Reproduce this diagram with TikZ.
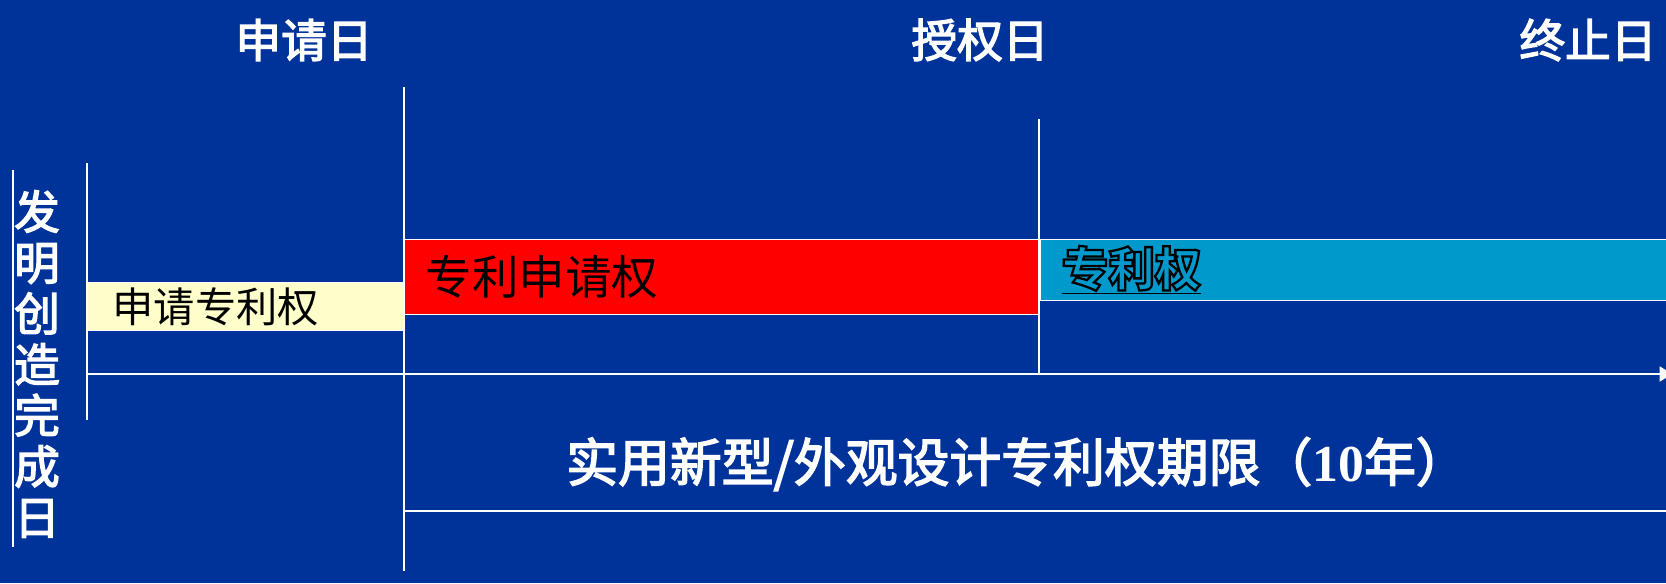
\documentclass[tikz,border=0pt]{standalone}
\usepackage{fontspec}
\usetikzlibrary{arrows.meta,positioning}
\newfontfamily\cjk{Noto Sans CJK SC}
\newfontfamily\cjkbold[FakeBold=3]{Noto Sans CJK SC}
\newfontfamily\numfont{Liberation Serif}
\definecolor{slide}{HTML}{003399}
\definecolor{rightsred}{HTML}{FF0000}
\definecolor{rightscyan}{HTML}{0099CC}
\definecolor{rightsyellow}{HTML}{FFFFCC}
% outlined text: stroke only, black
\newcommand{\hollow}[1]{\special{pdf:literal direct 1 Tr 1.3 w 0 0 0 RG}#1\special{pdf:literal direct 0 Tr}}
\tikzset{
    %Define standard arrow tip
    >={Triangle[width=8.5pt,length=7pt]},
    %Define style for date labels
    datum/.style={
           text=white,
           inner sep=0pt,
           font=\cjkbold\fontsize{26}{29}\selectfont,
           align=center},
    %Define style for bars
    phase/.style={
           rectangle,
           draw=white, line width=0.7pt,
           anchor=north west,
           inner ysep=0pt,
           align=left,
           text=black,
           font=\cjk\fontsize{26.5}{30}\selectfont},
    % Define line style
    rule/.style={
           draw=white,
           line width=0.9pt}
}
\begin{document}
\begin{tikzpicture}[x=0.02cm,y=-0.02cm]
\useasboundingbox (0,0) rectangle (1666,583);
\fill[slide] (0,0) rectangle (1666,583);
 %dates
\node[datum](1) at (304,40){申请日};
\node[datum](2) at (980,40){授权日};
\node[datum](3) at (1588,40){终止日};
\node[datum](4) at (37,364){发\\明\\创\\造\\完\\成\\日};
 %bars
\node[phase, fill=rightsyellow, minimum width=6.34cm, minimum height=0.96cm,
      inner xsep=0.5cm, text width=5.34cm,
      font=\cjk\fontsize{23.5}{28}\selectfont](5) at (87,282){申请专利权};
\node[phase, fill=rightsred, minimum width=12.7cm, minimum height=1.5cm,
      inner xsep=0.42cm, text width=11.86cm](6) at (404,239){专利申请权};
\node[phase, fill=rightscyan, minimum width=12.82cm, minimum height=1.22cm,
      inner xsep=0.42cm, text width=11.98cm,
      font=\cjk\bfseries\fontsize{26.5}{30}\selectfont](7) at (6.north east)
      {\underline{\hollow{专利权}}};
\node[datum, font=\cjkbold\fontsize{29.5}{33}\selectfont](8) at (1017,464)
      {实用新型/外观设计专利权期限（{\numfont\bfseries 10}年）};
 %time lines
\coordinate (a1) at (13,170);   \coordinate (a2) at (13,547);
\coordinate (b1) at (87,163);   \coordinate (b2) at (87,420);
\coordinate (c1) at (404,87);   \coordinate (c2) at (404,571);
\coordinate (d1) at (1039,119); \coordinate (d2) at (1039,374);
\coordinate (e1) at (87,374);   \coordinate (e2) at (1672,374);
\coordinate (f1) at (404,511);  \coordinate (f2) at (1680,511);
\path[rule]
    (a1) edge (a2)
    (b1) edge (b2)
    (c1) edge (c2)
    (d1) edge (d2)
    (f1) edge[line width=1.1pt] (f2);
\draw[rule, line width=1.1pt, ->, white] (e1) -- (e2);
\end{tikzpicture}
\end{document}
